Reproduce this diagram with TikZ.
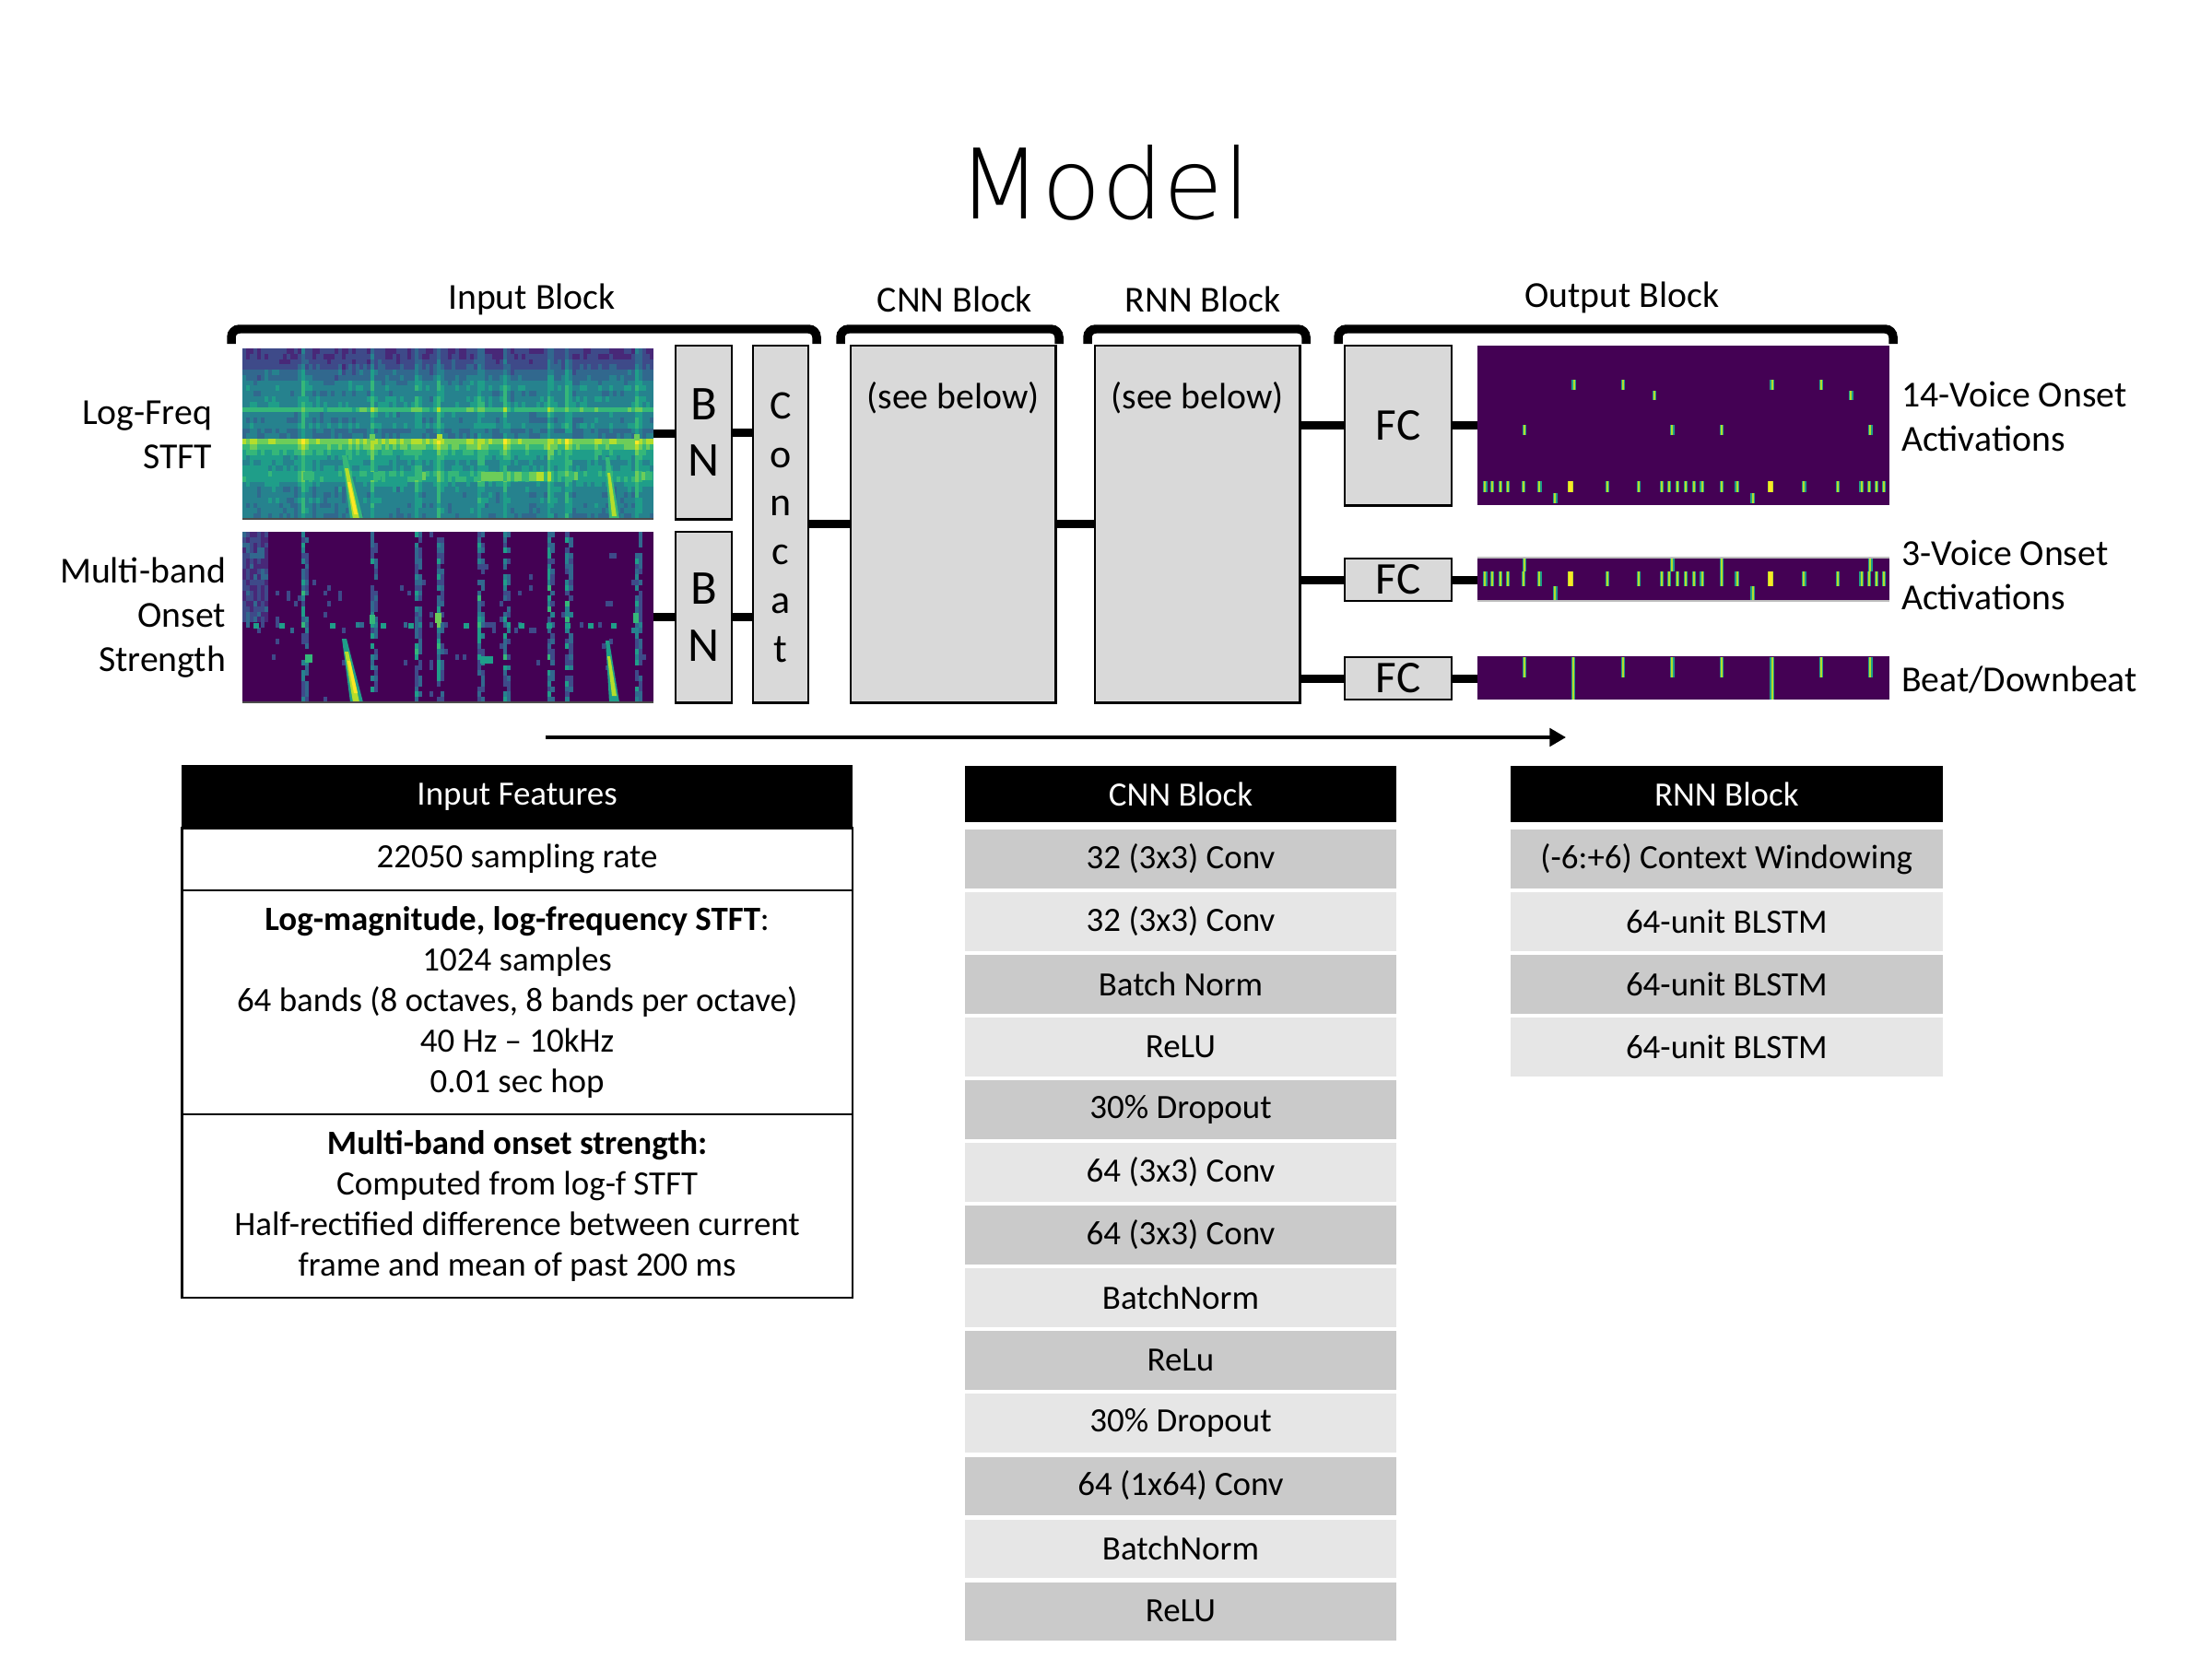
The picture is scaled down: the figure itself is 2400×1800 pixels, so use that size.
\documentclass[tikz,border=0pt]{standalone}
\usepackage{fontspec}
\setmainfont{Carlito}
\IfFontExistsTF{DejaVu Sans ExtraLight}{\newfontfamily\titlefont{DejaVu Sans ExtraLight}}{\newfontfamily\titlefont{Poppins}}
\usetikzlibrary{arrows.meta}
\definecolor{vir0}{HTML}{440154}
\definecolor{vir1}{HTML}{482878}
\definecolor{vir2}{HTML}{3E4A89}
\definecolor{vir3}{HTML}{31688E}
\definecolor{vir4}{HTML}{26828E}
\definecolor{vir5}{HTML}{1F9E89}
\definecolor{vir6}{HTML}{35B779}
\definecolor{vir7}{HTML}{6DCD59}
\definecolor{vir8}{HTML}{B4DE2C}
\definecolor{vir9}{HTML}{FDE725}
\definecolor{boxgray}{HTML}{D9D9D9}
\definecolor{rowdark}{HTML}{CACACA}
\definecolor{rowlight}{HTML}{E6E6E6}
\def\onsetlist{0,0,0,0,0,0,0,0,0,0, 0,0,0,0,0,0,2,1,0,0, 0,0,0,0,0,0,0,0,0,0, 0,0,0,0,0,2,1,0,0,0, 0,0,0,0,0,0,0,2,1,0, 0,0,0,2,1,0,0,0,0,0, 0,0,0,0,2,1,0,0,0,0, 0,2,1,0,0,0,0,0,0,0, 0,0,0,2,1,0,0,0,2,1, 0,0,0,0,0,0,0,0,0,0, 0,0,0,0,0,0,0,2,1,0, 0,0}
\def\rowsA{1.5,1.6,1.9,2.2,3,3.2,3.8,4.2,3.8,4.2,4.3,6,4,3.7,4.2,3.3,3.4,7.3,6.4,5.3,4.8,4.4,4.5,5.2,5.2,4.4,4,3.8,4,3.8,3.8,3.6}
\def\rowsB{1,1,1,1,1.5,1,1.5,1.5,1.5,1.5,1.5,2,1.5,1.5,1.5,2,2,4,3,1.5,1.5,1.5,2,2,2,1.5,1,1,1,1,1,1}
\newcommand\otick[4][vir8]{\fill[vir5] ({#2*447-2.2},#3) rectangle ({#2*447+2.2},#4);
  \fill[#1] ({#2*447-1},#3) rectangle ({#2*447+1},#4);}
\begin{document}
\begin{tikzpicture}[x=0.01cm,y=-0.01cm,
  every node/.style={inner sep=0pt, outer sep=0pt},
  lbl/.style={font=\fontsize{11.3}{13.6}\selectfont},
  blockbox/.style={draw=black, line width=0.8pt, fill=boxgray, anchor=north west},
  conn/.style={line width=2.55pt},
  brk/.style={line width=2.7pt, rounded corners=2.5pt},
  imgbox/.style={anchor=north west, fill=vir0},
  thead/.style={fill=black, text=white, font=\fontsize{10.5}{12.5}\selectfont, minimum height=0.61cm},
  trow/.style={font=\fontsize{10.5}{12.5}\selectfont, minimum height=0.63cm},
  ttext/.style={font=\fontsize{10.5}{12.5}\selectfont, align=center, draw=black, line width=0.7pt, anchor=north west, minimum width=7.27cm},
]
\fill[white] (0,0) rectangle (2400,1800);
\useasboundingbox (0,0) rectangle (2400,1800);

% title
\node[font=\titlefont\fontsize{30}{36}\selectfont] (title) at (1198,198) {Model};

% bracket labels
\node[lbl] (lblin) at (577,325) {Input Block};
\node[lbl] (lblcnn) at (1036,325) {CNN Block};
\node[lbl] (lblrnn) at (1305,325) {RNN Block};
\node[lbl] (lblout) at (1760,323) {Output Block};

% brackets
\draw[brk] (251,373) -- (251,357) -- (886,357) -- (886,373);
\draw[brk] (912,373) -- (912,357) -- (1149,357) -- (1149,373);
\draw[brk] (1180,373) -- (1180,357) -- (1417,357) -- (1417,373);
\draw[brk] (1452,373) -- (1452,357) -- (2054,357) -- (2054,373);

% spectrogram 1
\node[anchor=north west, minimum width=4.46cm, minimum height=1.85cm, fill=vir4] (spec1) at (263,378) {};
\begin{scope}[shift={(spec1.north west)}]
\pgfmathsetseed{7}
\foreach[count=\c from 0] \o in \onsetlist {
  \pgfmathsetmacro\cn{rand}
  \foreach[count=\r from 0] \b in \rowsA {
    \pgfmathtruncatemacro\v{max(0,min(9,round(\b+0.7*\o+0.35*\cn+0.5*rand)))}
    \fill[vir\v] ({\c*3.982},{\r*5.78}) rectangle ++(4.1,5.9);
  }
}
% bright segments of the lower band
\foreach \x in {255,259,...,331} {
  \pgfmathtruncatemacro\v{6+round(2*rnd)}
  \fill[vir\v] (\x,134) rectangle ++(4.1,10);
}
\foreach \x in {66,70,74,138,142,146,187,191,195,356,360,433,437,441} {
  \pgfmathtruncatemacro\v{5+round(2*rnd)}
  \fill[vir\v] (\x,134) rectangle ++(4.1,9);
}
% onset spots
\fill[vir7] (138,93) rectangle (144,100);
\fill[vir8] (211,93) rectangle (217,100);
\fill[vir7] (425,93) rectangle (431,100);
% diagonal streaks
\fill[vir6] (108,116) -- (113,116) -- (131,185) -- (117,185) -- cycle;
\fill[vir8] (111,130) -- (115,130) -- (127,185) -- (120,185) -- cycle;
\fill[vir9] (114,145) -- (117,145) -- (125,180) -- (121,180) -- cycle;
\fill[vir6] (394,118) -- (398,118) -- (409,185) -- (398,185) -- cycle;
\fill[vir8] (396,135) -- (399,135) -- (406,182) -- (401,182) -- cycle;
\end{scope}

% spectrogram 2
\node[anchor=north west, minimum width=4.46cm, minimum height=1.85cm, fill=vir0] (spec2) at (263,577) {};
\begin{scope}[shift={(spec2.north west)}]
\pgfmathsetseed{11}
\foreach[count=\c from 0] \o in \onsetlist {
  \pgfmathsetmacro\cn{max(0,rand)}
  \foreach[count=\r from 0] \b in \rowsB {
    \pgfmathtruncatemacro\v{min(8,floor(ifthenelse(\o>0,rnd*(0.6*\b+2.2*\o),rnd*rnd*rnd*(\b+\cn))))}
    \ifnum\v>0 \pgfmathtruncatemacro\w{\v+1}\fill[vir\w] ({\c*3.982},{\r*5.78}) rectangle ++(4.1,5.9);\fi
  }
}
\foreach \c in {0,...,6} {
  \foreach \r in {0,...,16} {
    \pgfmathtruncatemacro\v{1+floor(rnd*2.6)}
    \fill[vir\v] ({\c*3.982},{\r*5.78}) rectangle ++(4.1,5.9);
  }
}
% onset spots
\fill[vir6] (138,90) rectangle (144,100);
\fill[vir7] (209,88) rectangle (216,99);
\fill[vir6] (424,88) rectangle (430,99);
\fill[vir5] (258,135) rectangle (272,143);
\fill[vir6] (68,133) rectangle (76,142);
\foreach \x in {12,40,95,150,180,240,300,330,350,375,400} {\fill[vir5] (\x,99) rectangle ++(6,6);}
% diagonal streaks
\fill[vir5] (108,116) -- (113,116) -- (131,185) -- (117,185) -- cycle;
\fill[vir8] (111,130) -- (115,130) -- (127,185) -- (120,185) -- cycle;
\fill[vir9] (114,140) -- (117,140) -- (125,175) -- (121,175) -- cycle;
\fill[vir5] (394,118) -- (398,118) -- (409,185) -- (398,185) -- cycle;
\fill[vir8] (396,135) -- (399,135) -- (406,178) -- (401,178) -- cycle;
\end{scope}
\draw[line width=0.5pt, black!70] (spec1.south west) -- (spec1.south east);
\draw[line width=0.5pt, black!70] (spec2.south west) -- (spec2.south east);

% left labels
\node[lbl, align=right, anchor=east] (lab1) at (230,472) {Log-Freq\\STFT};
\node[lbl, align=right, anchor=east] (lab2) at (245,670) {Multi-band\\Onset\\Strength};

% BN and concat
\node[blockbox, minimum width=0.61cm, minimum height=1.88cm] (bn1) at (733,375) {};
\node[font=\fontsize{15}{17.5}\selectfont, align=center] (bn1t) at (bn1.center) {B\\N};
\node[blockbox, minimum width=0.61cm, minimum height=1.85cm] (bn2) at (733,577) {};
\node[font=\fontsize{15}{17.5}\selectfont, align=center] (bn2t) at (bn2.center) {B\\N};
\node[blockbox, minimum width=0.60cm, minimum height=3.87cm] (concat) at (817,375) {};
\node[font=\fontsize{12.5}{15}\selectfont, align=center] (concatt) at ([yshift=-1pt]concat.center) {C\\o\\n\\c\\a\\t};

% CNN / RNN boxes
\node[blockbox, minimum width=2.22cm, minimum height=3.87cm] (cnn) at (923,375) {};
\node[lbl] (cnnt) at (1034,432) {(see below)};
\node[blockbox, minimum width=2.22cm, minimum height=3.87cm] (rnn) at (1188,375) {};
\node[lbl] (rnnt) at (1299,432) {(see below)};

% FC boxes
\node[blockbox, minimum width=1.16cm, minimum height=1.73cm, font=\fontsize{14}{16}\selectfont] (fc1) at (1459,375) {FC};
\node[blockbox, minimum width=1.16cm, minimum height=0.46cm, font=\fontsize{14}{16}\selectfont] (fc2) at (1459,606) {FC};
\node[blockbox, minimum width=1.16cm, minimum height=0.46cm, font=\fontsize{14}{16}\selectfont] (fc3) at (1459,713) {FC};

% output images
\node[imgbox, minimum width=4.47cm, minimum height=1.73cm] (out1) at (1602.5,375) {};
\begin{scope}[shift={(out1.north west)}]
\foreach \f in {0.235,0.354,0.716,0.836} {\otick{\f}{37}{48}}
\foreach \f in {0.43,0.908} {\otick{\f}{48.5}{59}}
\foreach \f in {0.115,0.474,0.594,0.955} {\otick{\f}{86}{97}}
\foreach \f in {0.020,0.037,0.057,0.075,0.113,0.152,0.317,0.393,0.449,0.467,0.486,0.507,0.527,0.546,0.594,0.631,0.794,0.876,0.933,0.952,0.970,0.988} {\otick{\f}{147}{159}}
\foreach \f in {0.228,0.713} {\fill[vir8] ({\f*447-3},147) rectangle ({\f*447+3},159); \fill[vir9] ({\f*447-2},147) rectangle ({\f*447+2},159);}
\foreach \f in {0.19,0.669} {\otick{\f}{160}{171}}
\end{scope}

\node[imgbox, minimum width=4.47cm, minimum height=0.474cm] (out2) at (1602.5,604.6) {};
\begin{scope}[shift={(out2.north west)}]
\foreach \f in {0.115,0.474,0.594,0.955} {\otick{\f}{0.5}{15}}
\foreach \f in {0.020,0.037,0.057,0.075,0.113,0.152,0.317,0.393,0.449,0.467,0.486,0.507,0.527,0.546,0.594,0.631,0.794,0.876,0.933,0.952,0.970,0.988} {\otick{\f}{15}{31}}
\foreach \f in {0.228,0.713} {\fill[vir8] ({\f*447-3},15) rectangle ({\f*447+3},31); \fill[vir9] ({\f*447-2},15) rectangle ({\f*447+2},31);}
\foreach \f in {0.19,0.669} {\otick{\f}{31}{47}}
\end{scope}
\draw[line width=0.6pt, black!25] (out2.north west) -- (out2.north east);
\draw[line width=0.6pt, black!25] (out2.south west) -- (out2.south east);

\node[imgbox, minimum width=4.47cm, minimum height=0.47cm] (out3) at (1602.5,712) {};
\begin{scope}[shift={(out3.north west)}]
\foreach \f in {0.115,0.354,0.474,0.594,0.836,0.955} {\otick{\f}{0.5}{23}}
\foreach \f in {0.234,0.716} {\otick{\f}{0.5}{46.5}}
\end{scope}

% right labels
\node[lbl, align=left, anchor=west] (rl1) at (2063,452) {14-Voice Onset\\Activations};
\node[lbl, align=left, anchor=west] (rl2) at (2063,624) {3-Voice Onset\\Activations};
\node[lbl, anchor=west] (rl3) at (2063,738) {Beat/Downbeat};

% connectors
\draw[conn] (spec1.east) -- (spec1.east -| bn1.west);
\draw[conn] (spec2.east) -- (spec2.east -| bn2.west);
\draw[conn] (bn1.east) -- (bn1.east -| concat.west);
\draw[conn] (bn2.east) -- (bn2.east -| concat.west);
\draw[conn] (concat.east) -- (concat.east -| cnn.west);
\draw[conn] (cnn.east) -- (cnn.east -| rnn.west);
\draw[conn] (fc1.west -| rnn.east) -- (fc1.west);
\draw[conn] (fc2.west -| rnn.east) -- (fc2.west);
\draw[conn] (fc3.west -| rnn.east) -- (fc3.west);
\draw[conn] (fc1.east) -- (fc1.east -| out1.west);
\draw[conn] (fc2.east) -- (fc2.east -| out2.west);
\draw[conn] (fc3.east) -- (fc3.east -| out3.west);

% flow arrow
\coordinate (arrS) at (592,800);
\coordinate (arrE) at (1699,800);
\draw[line width=1.1pt, -{Triangle[length=5pt, width=5.5pt]}] (arrS) -- (arrE);

% Input features table
\node[thead, anchor=north west, minimum width=7.27cm, minimum height=0.69cm] (inh) at (197.4,829.6) {Input Features};
\node[ttext, minimum height=0.673cm] (inr1) at (197.4,898.5) {22050 sampling rate};
\node[ttext, minimum height=2.432cm] (inr2) at (197.4,965.8) {\textbf{Log-magnitude, log-frequency STFT}:\\1024 samples\\64 bands (8 octaves, 8 bands per octave)\\40 Hz -- 10kHz\\0.01 sec hop};
\node[ttext, minimum height=1.99cm] (inr3) at (197.4,1209) {\textbf{Multi-band onset strength:}\\Computed from log-f STFT\\Half-rectified difference between current\\frame and mean of past 200 ms};

% CNN table
\node[thead, minimum width=4.68cm] (cnnh) at (1281,861.5) {CNN Block};
\foreach[count=\k from 0] \t in {32 (3x3) Conv, 32 (3x3) Conv, Batch Norm, ReLU, 30\% Dropout, 64 (3x3) Conv, 64 (3x3) Conv, BatchNorm, ReLu, 30\% Dropout, 64 (1x64) Conv, BatchNorm, ReLU} {
  \ifodd\k \def\rc{rowlight}\else\def\rc{rowdark}\fi
  \node[trow, fill=\rc, minimum width=4.68cm] (cnnr\k) at (1281,{932+68*\k}) {\t};
}

% RNN table
\node[thead, minimum width=4.686cm] (rnnh) at (1873.3,861.5) {RNN Block};
\foreach[count=\k from 0] \t in {(-6:+6) Context Windowing, 64-unit BLSTM, 64-unit BLSTM, 64-unit BLSTM} {
  \ifodd\k \def\rc{rowlight}\else\def\rc{rowdark}\fi
  \node[trow, fill=\rc, minimum width=4.686cm] (rnnr\k) at (1873.3,{932+68*\k}) {\t};
}
\end{tikzpicture}
\end{document}
